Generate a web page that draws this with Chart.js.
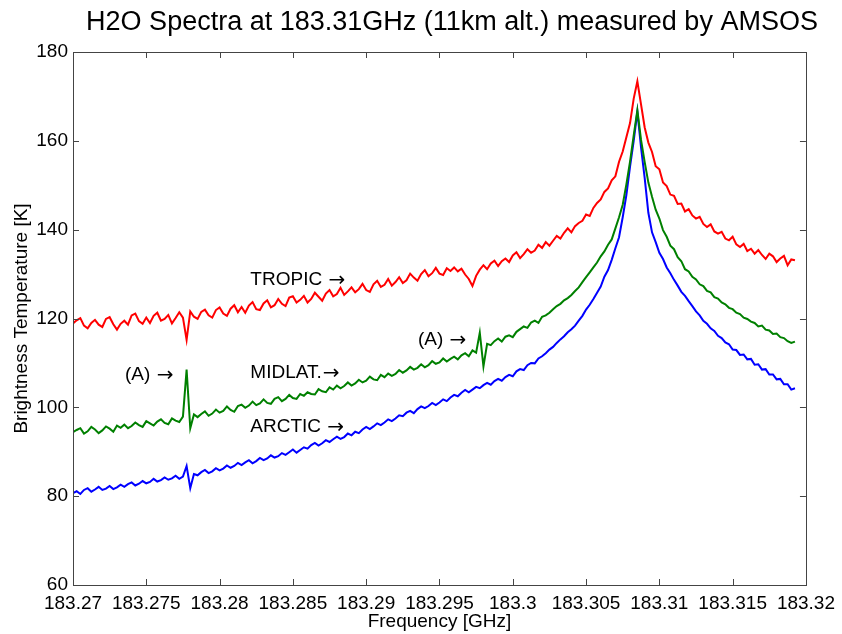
<!DOCTYPE html>
<html><head><meta charset="utf-8">
<script src="https://cdn.jsdelivr.net/npm/chart.js@4.4.1/dist/chart.umd.min.js"></script>
<style>html,body{margin:0;padding:0;background:#fff;}#wrap{width:842px;height:634px;}</style>
</head><body><div id="wrap"><canvas id="c" width="842" height="634"></canvas></div>
<script>
// ---- data ----
const chartTitle = 'H2O Spectra at 183.31GHz (11km alt.) measured by AMSOS';
const xTitle = 'Frequency [GHz]';
const yTitle = 'Brightness Temperature [K]';
// spectrometer channel grid
const freqStart = 183.27;
const freqStep = 0.00025;
const tropic = [
118.9,119.6,120.1,118.4,117.8,119.0,119.7,118.6,118.1,119.9,120.3,118.7,117.5,118.8,
119.5,118.6,120.7,121.1,119.4,118.8,120.2,119.0,120.6,121.3,119.5,119.9,120.8,118.9,120.1,121.4,120.2,115.2,121.6,120.4,
119.9,121.5,122.0,120.7,120.2,121.9,122.5,121.1,120.6,122.2,123.0,121.4,
122.6,121.3,122.9,123.7,122.1,121.9,123.4,124.1,122.5,123.0,124.4,123.3,122.8,124.7,125.0,123.6,124.2,
125.1,123.6,124.4,125.8,124.9,124.0,125.6,126.4,125.0,125.5,126.9,125.3,126.1,127.0,
125.9,126.6,127.8,126.4,126.0,127.7,128.5,127.1,127.6,128.9,127.4,128.2,129.3,
128.0,128.6,130.1,129.2,128.5,130.0,130.9,129.5,130.2,131.4,130.1,129.8,131.3,130.7,
131.5,130.6,131.2,129.9,128.9,127.3,129.6,131.0,132.0,131.1,132.4,133.0,131.8,132.9,
133.5,132.7,134.2,134.9,133.6,134.5,135.6,134.8,135.3,136.6,135.9,137.2,136.4,137.5,
138.6,138.0,139.3,140.3,139.4,140.8,141.5,
142.0,143.4,143.1,144.9,
146.0,146.8,148.5,149.3,151.1,152.0,
155.3,157.6,160.8,164.0,169.5,173.4,168.2,163.0,159.6,157.5,154.3,153.6,150.6,149.8,
147.9,147.6,145.8,145.9,144.1,
144.6,143.2,142.5,142.9,141.3,140.6,141.2,
139.6,139.1,139.5,138.0,137.6,138.4,
136.7,136.1,136.8,135.2,135.7,134.6,135.4,134.3,
133.4,134.6,134.0,132.7,133.5,134.1,132.0,133.3,133.1
];
const midlat = [
94.4,94.9,95.3,94.1,94.6,95.6,95.0,94.2,94.8,95.7,95.2,94.5,95.9,95.4,
96.1,95.3,95.8,96.6,96.0,95.6,96.9,96.4,95.9,96.8,97.3,96.5,96.2,97.5,97.0,96.7,97.9,108.5,95.3,98.4,
97.8,98.5,99.1,98.1,98.6,99.5,98.8,99.2,100.2,99.4,99.0,100.3,
100.6,99.9,100.4,101.3,100.5,100.9,101.8,101.0,100.8,101.9,102.3,101.4,101.9,102.8,102.1,101.9,103.0,
102.6,103.4,103.0,102.9,104.1,103.6,103.4,104.5,104.0,104.9,104.3,104.8,105.6,104.9,
105.4,106.2,105.6,106.0,106.9,106.3,106.1,107.3,106.8,107.6,107.1,107.5,108.4,
107.8,108.3,109.1,108.5,108.9,109.7,109.0,109.5,110.4,109.8,110.1,111.0,110.3,110.9,
111.4,110.8,111.7,112.2,111.5,112.8,112.3,116.8,109.2,114.3,
114.0,114.9,115.5,114.8,115.9,116.2,115.8,117.0,
117.6,118.2,117.9,119.1,119.5,119.0,120.4,120.7,121.3,
122.1,122.8,123.3,124.1,124.6,125.3,126.2,127.0,
128.2,129.3,130.4,131.5,
132.6,134.0,135.1,136.6,137.8,
140.3,142.8,145.6,150.2,155.3,161.2,166.9,160.2,155.2,150.6,147.4,144.5,142.5,139.9,138.4,
136.4,135.6,133.8,132.9,131.1,
130.6,129.4,128.8,127.7,127.3,126.2,125.9,
124.8,124.5,123.6,123.2,122.4,122.1,
121.3,121.0,120.2,119.9,119.3,119.0,118.2,118.4,
117.5,117.3,116.5,116.6,115.8,115.6,114.9,114.5,114.8
];
const arctic = [
80.7,81.1,80.5,81.4,81.8,81.0,81.5,82.1,81.4,81.7,82.3,81.6,82.0,82.6,
82.1,82.7,83.1,82.4,82.8,83.4,82.9,83.2,83.9,83.3,83.6,84.2,83.7,84.0,84.6,83.9,84.4,86.8,81.8,85.0,
84.7,85.4,85.9,85.2,85.6,86.3,85.8,86.2,86.9,86.4,86.8,87.5,
87.0,87.6,88.1,87.4,87.9,88.6,88.1,88.5,89.2,88.7,89.0,89.7,89.3,89.9,90.5,89.8,90.4,
91.0,90.7,91.5,92.0,91.4,91.9,92.6,92.2,92.8,93.4,92.9,93.3,94.1,93.7,
94.5,94.2,95.0,95.6,95.1,95.7,96.4,96.0,96.6,97.3,96.9,97.5,98.2,
98.0,98.8,99.2,98.7,99.6,100.2,99.8,100.3,101.0,100.5,101.1,101.8,101.4,102.2,
102.8,102.5,103.3,103.9,103.4,104.0,104.6,104.3,
105.0,105.5,105.1,105.9,106.4,106.0,106.8,107.3,107.0,108.1,
108.6,108.4,109.5,110.0,109.9,111.0,111.5,112.2,113.0,
113.6,114.5,115.3,116.0,116.9,117.6,118.4,119.5,
120.6,122.0,123.1,124.4,
125.8,127.2,129.4,130.9,133.2,
135.8,138.3,142.8,147.8,154.2,160.0,166.6,158.5,151.6,143.8,139.4,137.2,134.8,
133.4,131.5,130.2,128.7,127.4,
126.0,125.1,123.9,122.8,121.6,120.7,
119.5,118.8,117.8,117.2,116.1,115.6,114.6,
114.2,113.0,112.9,111.8,111.9,110.8,110.9,
109.6,109.7,108.5,108.6,107.4,107.4,
106.3,106.4,105.2,105.2,104.0,104.3
];
const xTickValues = [183.27,183.275,183.28,183.285,183.29,183.295,183.3,183.305,183.31,183.315,183.32];
const xTickLabels = ['183.27','183.275','183.28','183.285','183.29','183.295','183.3','183.305','183.31','183.315','183.32'];
const yTickValues = [60,80,100,120,140,160,180];
const yTickLabels = ['60','80','100','120','140','160','180'];
const labelTexts = ['TROPIC \u2192','MIDLAT.\u2192','ARCTIC \u2192','(A) \u2192','(A) \u2192'];
const labelFreqs = [183.2821,183.2821,183.2821,183.27355,183.29353];
const labelTemps = [128.8,107.7,95.6,107.3,115.2];

// ---- build ----
const FONT = "'Liberation Sans', Arial, Helvetica, sans-serif";
const ARROW_FONT = "'DejaVu Sans', sans-serif";
Chart.defaults.font.family = FONT;
Chart.defaults.color = '#000';
function toPoints(arr){ return arr.map((v,i)=>({x: freqStart + i*freqStep, y: v})); }

const boxPlugin = {
  id: 'boxPlugin',
  afterDraw(chart){
    const {ctx, chartArea:a, scales:{x, y}} = chart;
    ctx.save();
    ctx.strokeStyle = '#444';
    ctx.lineWidth = 1;
    ctx.strokeRect(Math.round(a.left)+0.5, Math.round(a.top)+0.5, Math.round(a.right-a.left), Math.round(a.bottom-a.top));
    const tl = 6;
    ctx.beginPath();
    x.ticks.forEach(t=>{
      const px = Math.round(x.getPixelForValue(t.value))+0.5;
      ctx.moveTo(px, a.bottom); ctx.lineTo(px, a.bottom-tl);
      ctx.moveTo(px, a.top); ctx.lineTo(px, a.top+tl);
    });
    y.ticks.forEach(t=>{
      const py = Math.round(y.getPixelForValue(t.value))+0.5;
      ctx.moveTo(a.left, py); ctx.lineTo(a.left+tl, py);
      ctx.moveTo(a.right, py); ctx.lineTo(a.right-tl, py);
    });
    ctx.stroke();
    ctx.restore();
  }
};
const textPlugin = {
  id: 'textPlugin',
  afterDatasetsDraw(chart){
    const {ctx, scales:{x, y}} = chart;
    ctx.save();
    ctx.fillStyle = '#000';
    ctx.textBaseline = 'middle';
    ctx.textAlign = 'left';
    labelTexts.forEach((t,i)=>{
      const px = x.getPixelForValue(labelFreqs[i]);
      const py = y.getPixelForValue(labelTemps[i]);
      const k = t.indexOf('\u2192');
      const head = k >= 0 ? t.slice(0,k) : t;
      ctx.font = "19px " + FONT;
      ctx.fillText(head, px, py);
      if (k >= 0) {
        const w = ctx.measureText(head).width;
        ctx.font = "20px " + ARROW_FONT;
        ctx.fillText(t.slice(k), px + w + 1, py + 1);
      }
    });
    ctx.font = "27px " + FONT;
    ctx.textAlign = 'center';
    ctx.fillText(chartTitle, 452, 23);
    ctx.restore();
  }
};

new Chart(document.getElementById('c'), {
  type: 'line',
  data: {
    datasets: [
      {label:'TROPIC', data: toPoints(tropic), borderColor:'#ff0000', borderWidth:2, pointRadius:0, tension:0, fill:false},
      {label:'MIDLAT', data: toPoints(midlat), borderColor:'#008000', borderWidth:2, pointRadius:0, tension:0, fill:false},
      {label:'ARCTIC', data: toPoints(arctic), borderColor:'#0000ff', borderWidth:2, pointRadius:0, tension:0, fill:false}
    ]
  },
  options: {
    responsive: false,
    animation: false,
    events: [],
    layout: { padding: {top: 52, right: 36, left: 0, bottom: 0} },
    plugins: { legend: {display:false}, tooltip: {enabled:false}, title: {display:false} },
    scales: {
      x: {
        type: 'linear', min: 183.27, max: 183.32,
        afterBuildTicks: s => { s.ticks = xTickValues.map(v=>({value:v})); },
        afterFit: s => { s.height = 49; },
        ticks: { callback: (v,i) => xTickLabels[i], font:{size:19}, color:'#000', padding:7, maxRotation:0, minRotation:0, autoSkip:false },
        grid: { display:false, drawTicks:false },
        border: { display:false },
        title: { display:true, text: xTitle, font:{size:19}, color:'#000', padding:{top:0, bottom:1} }
      },
      y: {
        type: 'linear', min: 60, max: 180,
        afterBuildTicks: s => { s.ticks = yTickValues.map(v=>({value:v})); },
        afterFit: s => { s.width = 73; },
        ticks: { callback: (v,i) => yTickLabels[i], font:{size:19}, color:'#000', padding:5 },
        grid: { display:false, drawTicks:false },
        border: { display:false },
        title: { display:true, text: yTitle, font:{size:19}, color:'#000', padding:{top:10, bottom:0} }
      }
    }
  },
  plugins: [boxPlugin, textPlugin]
});
</script></body></html>
